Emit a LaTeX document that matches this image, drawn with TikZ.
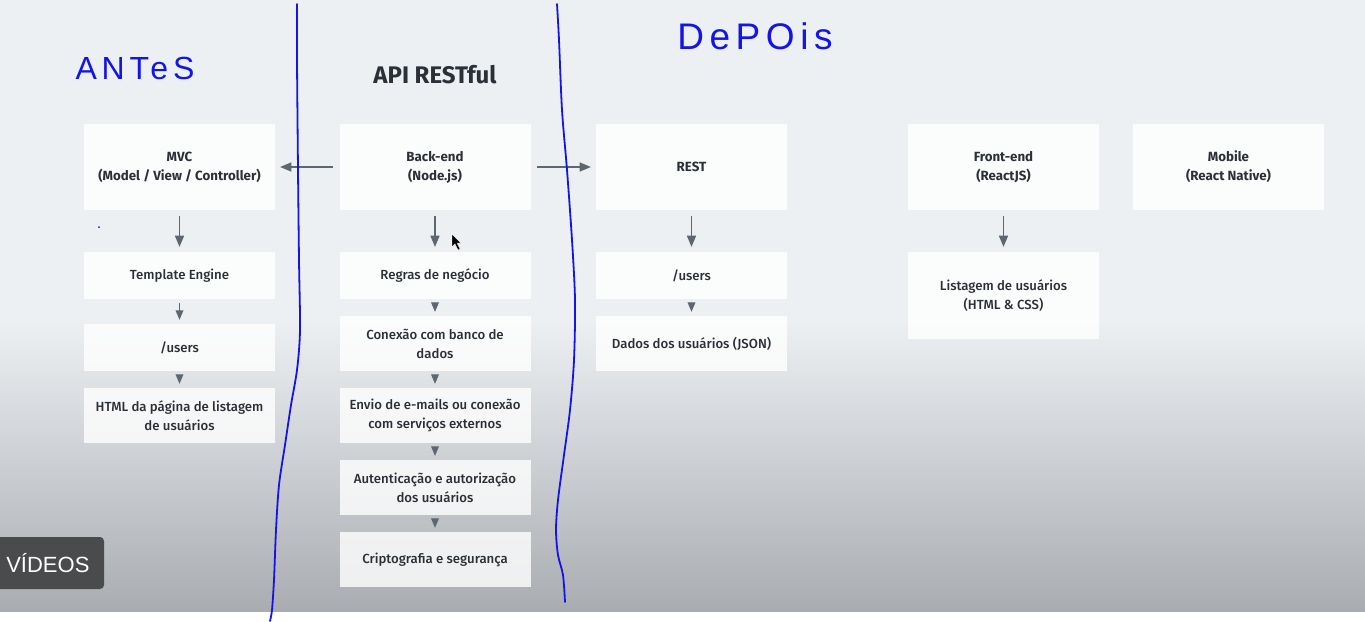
\documentclass[tikz,border=0pt]{standalone}
\usepackage{fontspec}
\setmainfont{Fira Sans}
\newfontfamily\medfont{Fira Sans Medium}
\newfontfamily\handfont[LetterSpace=15]{Liberation Sans}
\newfontfamily\ytfont{Liberation Sans}
\usepackage{tikz}
\usetikzlibrary{arrows}
\usepackage{xcolor}

\definecolor{bgtop}{HTML}{EDF0F3}
\definecolor{bgbot}{HTML}{A9ADB1}
\definecolor{arrowgray}{HTML}{5E6670}
\definecolor{boxtext}{HTML}{2B2F36}
\definecolor{penblue}{HTML}{1414E6}
\definecolor{ytgray}{HTML}{4A4B4D}

\tikzset{
  cardbox/.style={rectangle, fill=white, fill opacity=0.8, text opacity=1,
    minimum width=191pt, align=center, text=boxtext, inner sep=2pt},
  headbox/.style={cardbox, minimum height=86pt, font=\fontsize{13.3}{19}\selectfont\bfseries},
  itembox/.style={cardbox, font=\medfont\fontsize{13.2}{19}\selectfont},
  bigarrow/.style={-triangle 45, arrowgray, line width=1.6pt, shorten <=6pt, shorten >=5pt},
  smallarrow/.style={-triangle 45, arrowgray, line width=1.2pt, shorten <=4pt, shorten >=4pt},
  penline/.style={penblue, line width=1.8pt, line cap=round, line join=round}
}

\begin{document}
\begin{tikzpicture}[x=1pt, y=-1pt]
  \useasboundingbox (0,0) rectangle (1365,621);
  \fill[white] (0,0) rectangle (1365,621);
  \fill[bgtop] (0,0) rectangle (1365,320);
  \shade[top color=bgtop, bottom color=bgbot] (0,320) rectangle (1365,611);

  \node[font=\fontsize{24}{26}\selectfont\bfseries, text=boxtext] (title) at (435,75) {API RESTful};

  % top row
  \node[headbox] (mvc) at (179.5,167) {MVC\\(Model / View / Controller)};
  \node[headbox] (backend) at (435,167) {Back-end\\(Node.js)};
  \node[headbox] (rest) at (691.5,167) {REST};
  \node[headbox] (front) at (1003.5,167) {Front-end\\(ReactJS)};
  \node[headbox] (mobile) at (1228.5,167) {Mobile\\(React Native)};

  % antes
  \node[itembox, minimum height=47pt] (tmpl) at (179.5,275.5) {Template Engine};
  \node[itembox, minimum height=47pt] (usersa) at (179.5,347.5) {/users};
  \node[itembox, minimum height=55pt] (html) at (179.5,415.5) {HTML da página de listagem\\de usuários};

  % api restful
  \node[itembox, minimum height=47pt] (regras) at (435,275.5) {Regras de negócio};
  \node[itembox, minimum height=55pt] (conexao) at (435,343.5) {Conexão com banco de\\dados};
  \node[itembox, minimum height=55pt] (envio) at (435,415.5) {Envio de e-mails ou conexão\\com serviços externos};
  \node[itembox, minimum height=55pt] (auth) at (435,487.5) {Autenticação e autorização\\dos usuários};
  \node[itembox, minimum height=55pt] (cripto) at (435,559.5) {Criptografia e segurança};

  % depois
  \node[itembox, minimum height=47pt] (usersb) at (691.5,275.5) {/users};
  \node[itembox, minimum height=55pt] (dados) at (691.5,343.5) {Dados dos usuários (JSON)};
  \node[itembox, minimum height=87pt] (lista) at (1003.5,295.5) {Listagem de usuários\\(HTML \& CSS)};

  \draw[bigarrow] (backend) -- (mvc);
  \draw[bigarrow] (backend) -- (rest);
  \draw[bigarrow] (mvc) -- (tmpl);
  \draw[bigarrow] (backend) -- (regras);
  \draw[bigarrow] (rest) -- (usersb);
  \draw[bigarrow] (front) -- (lista);
  \draw[smallarrow] (tmpl) -- (usersa);
  \draw[smallarrow] (usersa) -- (html);
  \draw[smallarrow] (regras) -- (conexao);
  \draw[smallarrow] (conexao) -- (envio);
  \draw[smallarrow] (envio) -- (auth);
  \draw[smallarrow] (auth) -- (cripto);
  \draw[smallarrow] (usersb) -- (dados);

  % handwriting
  \node[text=penblue, font=\handfont\fontsize{32}{34}\selectfont] (antes) at (135,68) {ANTeS};
  \node[text=penblue, font=\handfont\fontsize{37}{38}\selectfont] (depois) at (755,36) {DePOis};
  \draw[penline] plot[smooth] coordinates {(297,4) (297,60) (298,170) (299,260) (300,330) (297,370)
    (291,405) (285,445) (279,485) (276,530) (274,580) (272,610) (270,621)};
  \draw[penline] plot[smooth] coordinates {(557,4) (559,40) (562,110) (567,170) (572,240) (575,300)
    (574,360) (570,410) (564,455) (558,500) (556,530) (558,555) (563,575) (565,602)};
  \fill[penblue] (99,227) circle (1pt);

  % cursor
  \filldraw[black, draw=white, line width=0.4pt] (452,234) -- (452,247) -- (455,244) -- (458,250)
    -- (460,249) -- (457,243) -- (461,243) -- cycle;

  \fill[ytgray, rounded corners=4pt] (-10,537) rectangle (104,589);
  \node[anchor=east, text=white, font=\ytfont\fontsize{22}{24}\selectfont] (videos) at (93,563) {S VÍDEOS};
\end{tikzpicture}
\end{document}
